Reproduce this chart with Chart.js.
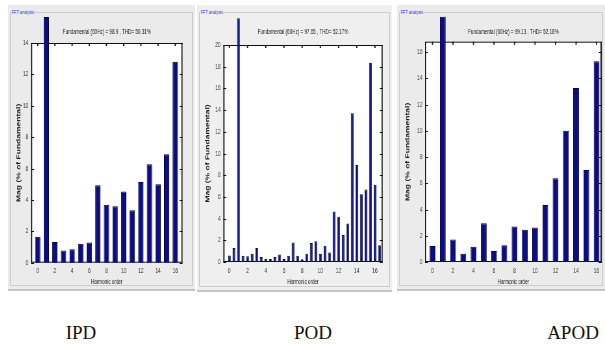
<!DOCTYPE html>
<html>
<head>
<meta charset="utf-8">
<script src="https://cdn.jsdelivr.net/npm/chart.js@4.4.1/dist/chart.umd.min.js"></script>
<style>
  body { margin: 0; width: 605px; height: 349px; background: #fff; position: relative; overflow: hidden; font-family: "Liberation Sans", Arial, sans-serif; }
  .panel { position: absolute; background: #ebebeb; border-bottom: 2px solid #c6c6c6; box-sizing: border-box; }
  .group { position: absolute; left: 2px; right: 2px; top: 7px; bottom: 3px; border: 1px solid #cdcdcd; }
  .group-lbl { position: absolute; top: 4px; left: 3px; padding: 0 1px; background: #ebebeb; color: #2f2fd0; font-size: 6px; line-height: 6px; transform: scaleX(.65); transform-origin: 0 0; white-space: nowrap; }
  .plot { position: absolute; left: 0; top: 0; transform-origin: 0 0; }
  .caption { position: absolute; top: 322px; font-family: "Liberation Serif", "Times New Roman", serif; font-size: 19px; color: #111; transform: translateX(-50%); white-space: nowrap; }
</style>
</head>
<body>
<div class="caption" style="left:81px">IPD</div>
<div class="caption" style="left:313px">POD</div>
<div class="caption" style="left:573px">APOD</div>
<script>
// the source screenshots are squeezed horizontally, so each chart is drawn wide and scaled back
const K = 0.65;

// harmonic spectra (% of fundamental)
const ipdOrder = [0, 1, 2, 3, 4, 5, 6, 7, 8, 9, 10, 11, 12, 13, 14, 15, 16];
const ipdMag = [1.66, 15.65, 1.32, 0.77, 0.85, 1.21, 1.28, 4.94, 3.70, 3.60, 4.53, 3.34, 5.15, 6.28, 5.0, 6.91, 12.8];

const podOrder = [0, 0.5, 1, 1.5, 2, 2.5, 3, 3.5, 4, 4.5, 5, 5.5, 6, 6.5, 7, 7.5, 8, 8.5,
                  9, 9.5, 10, 10.5, 11, 11.5, 12, 12.5, 13, 13.5, 14, 14.5, 15, 15.5, 16, 16.5];
const podMag = [0.61, 1.28, 22.46, 0.58, 0.52, 0.76, 1.28, 0.46, 0.30, 0.27, 0.46, 0.70, 0.27, 0.58, 1.80, 0.58, 0.21, 0.76,
                1.74, 1.92, 0.76, 1.49, 0.88, 4.66, 4.18, 2.50, 3.54, 13.7, 8.93, 6.25, 6.68, 18.37, 7.13, 1.55];

const apodOrder = [0, 1, 2, 3, 4, 5, 6, 7, 8, 9, 10, 11, 12, 13, 14, 15, 16];
const apodMag = [1.22, 18.7, 1.72, 0.63, 1.16, 2.96, 0.84, 1.27, 2.71, 2.46, 2.63, 4.35, 6.38, 10.0, 13.26, 7.01, 15.3];

const xTicks = [0, 2, 4, 6, 8, 10, 12, 14, 16];
const ipdYTicks = [0, 2, 4, 6, 8, 10, 12, 14];
const podYTicks = [0, 2, 4, 6, 8, 10, 12, 14, 16, 18, 20];
const apodYTicks = [0, 2, 4, 6, 8, 10, 12, 14, 16];

const FONT = '"Liberation Sans", Arial, sans-serif';

const panels = [
  { box: { x: 8, y: 5, w: 187, h: 286 }, plot: { x0: 31, x1: 183, y0: 43, y1: 262.7 }, bg: '#ebebeb',
    xMin: -0.78, xMax: 16.85, yMax: 14, order: ipdOrder, mag: ipdMag, yTicks: ipdYTicks, bar: 0.62,
    title: 'Fundamental (60Hz) = 98.9 , THD= 50.31%' },
  { box: { x: 197, y: 5, w: 195, h: 287 }, plot: { x0: 223.3, x1: 382.7, y0: 45, y1: 262 }, bg: '#efefef',
    xMin: -0.66, xMax: 16.85, yMax: 20, order: podOrder, mag: podMag, yTicks: podYTicks, bar: 0.6,
    title: 'Fundamental (60Hz) = 97.65 , THD= 52.17%' },
  { box: { x: 397, y: 5, w: 208, h: 286 }, plot: { x0: 425, x1: 601.7, y0: 41.7, y1: 262 }, bg: '#ebebeb',
    xMin: -0.73, xMax: 16.5, yMax: 16.8, order: apodOrder, mag: apodMag, yTicks: apodYTicks, bar: 0.56,
    title: 'Fundamental (60Hz) = 99.13 , THD= 52.18%' }
];

// white axes box with MATLAB style inward ticks on all four sides
const frame = {
  id: 'frame',
  beforeDraw(chart) {
    const { ctx, chartArea: a } = chart;
    ctx.save();
    ctx.fillStyle = '#fff';
    ctx.fillRect(a.left, a.top, a.right - a.left, a.bottom - a.top);
    ctx.restore();
  },
  beforeDatasetsDraw(chart) {
    const { ctx, chartArea: a, scales: { x, y } } = chart;
    ctx.save();
    ctx.strokeStyle = '#111';
    ctx.lineWidth = 1;
    ctx.beginPath();
    ctx.moveTo(a.left, a.top + 0.5); ctx.lineTo(a.right, a.top + 0.5);
    ctx.moveTo(a.left, a.bottom - 0.5); ctx.lineTo(a.right, a.bottom - 0.5);
    y.ticks.forEach(t => {
      const py = Math.round(y.getPixelForValue(t.value)) + 0.5;
      ctx.moveTo(a.left, py); ctx.lineTo(a.left + 3 / K, py);
      ctx.moveTo(a.right, py); ctx.lineTo(a.right - 3 / K, py);
    });
    ctx.stroke();
    ctx.lineWidth = 1.2 / K;
    ctx.beginPath();
    ctx.moveTo(a.left + 0.6 / K, a.top); ctx.lineTo(a.left + 0.6 / K, a.bottom);
    ctx.moveTo(a.right - 0.6 / K, a.top); ctx.lineTo(a.right - 0.6 / K, a.bottom);
    x.ticks.forEach(t => {
      const px = x.getPixelForValue(t.value);
      ctx.moveTo(px, a.bottom); ctx.lineTo(px, a.bottom - 3);
      ctx.moveTo(px, a.top); ctx.lineTo(px, a.top + 3);
    });
    ctx.stroke();
    ctx.restore();
  }
};

panels.forEach(p => {
  const { box, plot } = p;
  const panel = document.createElement('div');
  panel.className = 'panel';
  Object.assign(panel.style, { left: box.x + 'px', top: box.y + 'px', width: box.w + 'px', height: box.h + 'px', background: p.bg });
  panel.innerHTML = '<div class="group"></div><div class="group-lbl" style="background:' + p.bg + '">FFT analysis</div>';
  const wrap = document.createElement('div');
  wrap.className = 'plot';
  wrap.style.transform = 'scaleX(' + K + ')';
  const canvas = document.createElement('canvas');
  canvas.width = box.w / K;
  canvas.height = box.h;
  wrap.appendChild(canvas);
  panel.appendChild(wrap);
  document.body.appendChild(panel);

  const yAxisW = (plot.x0 - box.x) / K;
  const rightPad = (box.x + box.w - plot.x1) / K;
  const areaTop = plot.y0 - box.y;
  const xAxisH = box.y + box.h - plot.y1;
  const titleTop = 32.3 - box.y - 3.5;
  const yTitlePad = 11 / K - 4.25;
  const xTitlePad = box.y + box.h - 281.7 - 3.5;

  new Chart(canvas, {
    type: 'bar',
    data: {
      datasets: [{
        data: p.order.map((v, i) => ({ x: v, y: p.mag[i] })),
        backgroundColor: '#0c0c86',
        borderColor: '#02023a',
        borderWidth: 1,
        categoryPercentage: 1,
        barPercentage: p.bar,
        clip: false
      }]
    },
    options: {
      responsive: false,
      animation: false,
      events: [],
      layout: { padding: { left: 0, right: rightPad, top: 0, bottom: 0 } },
      plugins: {
        legend: { display: false },
        tooltip: { enabled: false },
        title: {
          display: true,
          text: p.title,
          fullSize: false,
          color: '#1a1a1a',
          font: { family: FONT, size: 7, weight: 'normal', lineHeight: 1 },
          padding: { top: titleTop, bottom: areaTop - titleTop - 7 }
        }
      },
      scales: {
        x: {
          type: 'linear',
          min: p.xMin,
          max: p.xMax,
          offset: false,
          grid: { display: false, drawTicks: false, offset: false },
          border: { display: false },
          afterBuildTicks: s => { s.ticks = xTicks.map(v => ({ value: v })); },
          afterFit: s => { s.height = xAxisH; },
          ticks: { color: '#333', font: { family: FONT, size: 7.5 }, padding: 4, maxRotation: 0, autoSkip: false },
          title: {
            display: true, text: 'Harmonic order', color: '#222',
            font: { family: FONT, size: 7, lineHeight: 1 }, padding: { top: 0, bottom: xTitlePad }
          }
        },
        y: {
          min: 0,
          max: p.yMax,
          grid: { display: false, drawTicks: false },
          border: { display: false },
          afterBuildTicks: s => { s.ticks = p.yTicks.map(v => ({ value: v })); },
          afterFit: s => { s.width = yAxisW; },
          ticks: { color: '#333', font: { family: FONT, size: 7.5 }, padding: 4, autoSkip: false },
          title: {
            display: true, text: 'Mag (% of Fundamental)', color: '#222',
            font: { family: FONT, size: 8.5, weight: 'bold', lineHeight: 1 }, padding: { top: yTitlePad, bottom: 0 }
          }
        }
      }
    },
    plugins: [frame]
  });
});
</script>
</body>
</html>
